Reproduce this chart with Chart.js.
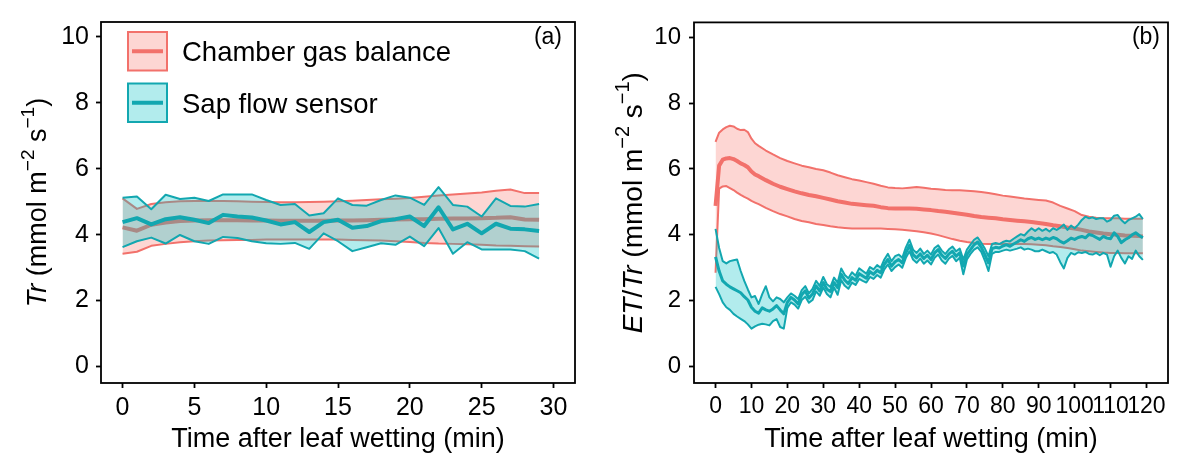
<!DOCTYPE html>
<html>
<head>
<meta charset="utf-8">
<script src="https://cdn.jsdelivr.net/npm/chart.js@4.4.1/dist/chart.umd.min.js"></script>
<style>
  html, body { margin: 0; padding: 0; background: #fff; }
  #wrap { position: relative; width: 1194px; height: 458px; }
  #wrap canvas { position: absolute; top: 0; }
</style>
</head>
<body>
<div id="wrap">
  <canvas id="panelA" width="597" height="458" style="left:0"></canvas>
  <canvas id="panelB" width="597" height="458" style="left:597px"></canvas>
</div>
<script>
"use strict";

// ---- panel (a): Tr, first 30 min ----
var minutesA = [0, 1, 2, 3, 4, 5, 6, 7, 8, 9, 10, 11, 12, 13, 14, 15, 16, 17, 18, 19, 20, 21, 22, 23, 24, 25, 26, 27, 28, 29];
var chamberUpperA = [5.10, 4.78, 4.93, 4.98, 5.01, 5.02, 5.02, 5.02, 5.01, 5.00, 4.99, 4.98, 4.98, 4.99, 5.00, 5.01, 5.03, 5.05, 5.07, 5.09, 5.11, 5.15, 5.19, 5.22, 5.25, 5.28, 5.33, 5.37, 5.26, 5.26];
var chamberMeanA = [4.22, 4.12, 4.30, 4.37, 4.41, 4.43, 4.44, 4.44, 4.44, 4.43, 4.43, 4.42, 4.42, 4.42, 4.42, 4.43, 4.43, 4.44, 4.45, 4.46, 4.47, 4.47, 4.48, 4.49, 4.49, 4.50, 4.51, 4.53, 4.46, 4.45];
var chamberLowerA = [3.42, 3.48, 3.66, 3.72, 3.77, 3.80, 3.82, 3.83, 3.84, 3.84, 3.85, 3.85, 3.85, 3.85, 3.85, 3.85, 3.84, 3.83, 3.82, 3.80, 3.78, 3.75, 3.73, 3.72, 3.71, 3.69, 3.67, 3.66, 3.65, 3.64];
var sapUpperA = [5.12, 5.16, 4.77, 5.21, 5.08, 5.12, 5.02, 5.22, 5.22, 5.22, 5.05, 4.90, 4.93, 4.58, 4.65, 5.10, 4.90, 4.88, 5.05, 5.19, 5.12, 4.90, 5.44, 4.90, 4.85, 4.55, 5.10, 4.87, 4.85, 4.93];
var sapMeanA = [4.38, 4.50, 4.31, 4.47, 4.53, 4.45, 4.35, 4.60, 4.55, 4.52, 4.43, 4.31, 4.38, 4.08, 4.38, 4.45, 4.21, 4.26, 4.41, 4.47, 4.55, 4.26, 4.83, 4.16, 4.33, 4.04, 4.33, 4.18, 4.16, 4.11];
var sapLowerA = [3.62, 3.80, 3.91, 3.73, 3.99, 3.80, 3.72, 3.93, 3.90, 3.80, 3.74, 3.72, 3.75, 3.57, 4.04, 3.80, 3.50, 3.62, 3.74, 3.69, 3.94, 3.65, 4.20, 3.42, 3.77, 3.55, 3.55, 3.55, 3.50, 3.27];
var xTicksA = [0, 5, 10, 15, 20, 25, 30];

// ---- panel (b): ET/Tr, 120 min ----
var chamberMinutesB = [0, 1, 2, 3, 4, 5, 6, 7, 8, 9, 10, 11, 12,
    14, 16, 18, 20, 22, 24, 26, 28, 30, 32, 34, 36, 38, 40, 42, 44, 46, 48, 50, 52, 54, 56, 58,
    60, 62, 64, 66, 68, 70, 72, 74, 76, 78, 80, 82, 84, 86, 88, 90, 92, 94, 96, 98, 100, 102, 104, 106, 108, 110, 112, 114, 116, 118,
    119];
var chamberUpperB = [6.82, 7.10, 7.20, 7.27, 7.31, 7.29, 7.22, 7.18, 7.19, 7.12, 6.92, 6.78, 6.70,
    6.56, 6.44, 6.33, 6.24, 6.17, 6.10, 6.05, 6.00, 5.96, 5.89, 5.81, 5.75, 5.69, 5.65, 5.60, 5.55, 5.49, 5.44, 5.42, 5.41, 5.43, 5.45, 5.43,
    5.40, 5.38, 5.36, 5.35, 5.35, 5.34, 5.32, 5.30, 5.27, 5.23, 5.19, 5.16, 5.13, 5.10, 5.08, 5.06, 5.04, 4.98, 4.88, 4.80, 4.72, 4.60, 4.55, 4.52, 4.50, 4.50, 4.50, 4.49, 4.49, 4.49,
    4.49];
var chamberMeanB = [4.88, 6.10, 6.28, 6.32, 6.33, 6.30, 6.24, 6.17, 6.12, 6.05, 5.92, 5.83, 5.78,
    5.66, 5.55, 5.46, 5.39, 5.32, 5.26, 5.21, 5.17, 5.12, 5.07, 5.02, 4.98, 4.94, 4.92, 4.90, 4.88, 4.84, 4.81, 4.80, 4.80, 4.80, 4.79, 4.77,
    4.75, 4.72, 4.70, 4.67, 4.64, 4.61, 4.57, 4.54, 4.52, 4.50, 4.47, 4.45, 4.43, 4.41, 4.39, 4.36, 4.33, 4.29, 4.26, 4.22, 4.19, 4.15, 4.10, 4.07, 4.04, 4.02, 4.00, 3.98, 3.97, 3.96,
    3.95];
var chamberLowerB = [2.85, 5.40, 5.47, 5.48, 5.42, 5.36, 5.28, 5.21, 5.15, 5.10, 5.03, 4.98, 4.93,
    4.82, 4.72, 4.63, 4.56, 4.48, 4.42, 4.38, 4.33, 4.30, 4.26, 4.23, 4.21, 4.19, 4.19, 4.19, 4.19, 4.19, 4.18, 4.17, 4.15, 4.13, 4.11, 4.08,
    4.04, 3.99, 3.93, 3.87, 3.82, 3.78, 3.75, 3.73, 3.72, 3.72, 3.72, 3.72, 3.72, 3.72, 3.71, 3.70, 3.68, 3.65, 3.63, 3.60, 3.56, 3.52, 3.50, 3.48, 3.46, 3.45, 3.45, 3.44, 3.44, 3.44,
    3.44];

var sapMinutesB = [0, 1, 2, 3, 4, 5, 6, 7, 8, 9,
    10, 11, 12, 13, 14, 15, 16, 17, 18, 19,
    20, 21, 22, 23, 24, 25, 26, 27, 28, 29,
    30, 31, 32, 33, 34, 35, 36, 37, 38, 39,
    40, 41, 42, 43, 44, 45, 46, 47, 48, 49,
    50, 51, 52, 53, 54, 55, 56, 57, 58, 59,
    60, 61, 62, 63, 64, 65, 66, 67, 68, 69,
    70, 71, 72, 73, 74, 75, 76, 77, 78, 79,
    80, 81, 82, 83, 84, 85, 86, 87, 88, 89,
    90, 91, 92, 93, 94, 95, 96, 97, 98, 99,
    100, 101, 102, 103, 104, 105, 106, 107, 108, 109,
    110, 111, 112, 113, 114, 115, 116, 117, 118, 119];
var sapUpperB = [4.18, 3.60, 3.20, 3.13, 3.20, 3.23, 3.25, 2.90, 2.60, 2.34,
    2.10, 2.14, 1.90, 2.20, 2.44, 2.10, 1.98, 2.10, 2.05, 1.95,
    2.10, 2.22, 2.15, 2.05, 2.32, 2.44, 2.22, 2.36, 2.60, 2.45,
    2.72, 2.50, 2.42, 2.70, 2.55, 2.98, 2.78, 2.68, 2.86, 2.76,
    2.98, 2.90, 2.82, 3.02, 2.95, 3.08, 3.00, 3.25, 3.42, 3.20,
    3.35, 3.40, 3.30, 3.62, 3.85, 3.55, 3.45, 3.58, 3.42, 3.52,
    3.40, 3.60, 3.68, 3.52, 3.42, 3.56, 3.64, 3.50, 3.58, 3.25,
    3.55, 3.70, 3.85, 3.92, 3.76, 3.58, 3.35, 3.72, 3.75, 3.72,
    3.78, 3.82, 3.80, 3.88, 3.95, 4.02, 3.98, 4.10, 4.20, 4.12,
    4.20, 4.12, 4.18, 4.10, 4.20, 4.15, 4.22, 4.31, 4.15, 4.28,
    4.20, 4.31, 4.45, 4.55, 4.50, 4.53, 4.48, 4.50, 4.50, 4.40,
    4.45, 4.58, 4.60, 4.45, 4.35, 4.45, 4.50, 4.55, 4.63, 4.48];
var sapMeanB = [3.33, 2.90, 2.60, 2.50, 2.42, 2.36, 2.30, 2.24, 2.12, 2.02,
    1.80, 1.68, 1.62, 1.78, 1.72, 1.68, 1.75, 1.85, 1.72, 1.60,
    1.95, 2.10, 2.02, 1.90, 2.18, 2.30, 2.08, 2.20, 2.45, 2.30,
    2.55, 2.35, 2.28, 2.55, 2.40, 2.80, 2.62, 2.52, 2.70, 2.62,
    2.82, 2.75, 2.68, 2.88, 2.80, 2.92, 2.85, 3.10, 3.25, 3.05,
    3.18, 3.25, 3.15, 3.45, 3.68, 3.40, 3.30, 3.42, 3.28, 3.38,
    3.25, 3.45, 3.55, 3.38, 3.28, 3.42, 3.50, 3.35, 3.45, 3.05,
    3.40, 3.55, 3.70, 3.78, 3.62, 3.40, 3.15, 3.58, 3.62, 3.60,
    3.66, 3.70, 3.65, 3.72, 3.78, 3.85, 3.80, 3.88, 3.92, 3.86,
    3.90, 3.85, 3.90, 3.86, 3.92, 3.88, 3.80, 3.75, 3.82, 3.90,
    3.86, 3.92, 3.95, 3.91, 4.01, 3.98, 3.92, 3.86, 3.95, 3.90,
    3.88, 4.06, 3.95, 3.76, 3.85, 3.91, 4.00, 4.06, 3.98, 3.91];
var sapLowerB = [2.42, 2.20, 1.95, 1.80, 1.72, 1.60, 1.52, 1.45, 1.38, 1.28,
    1.15, 1.22, 1.27, 1.30, 1.28, 1.25, 1.38, 1.44, 1.20, 1.15,
    1.78, 1.95, 1.88, 1.76, 2.02, 2.12, 1.94, 2.02, 2.28, 2.15,
    2.40, 2.20, 2.10, 2.40, 2.18, 2.62, 2.45, 2.36, 2.55, 2.48,
    2.66, 2.60, 2.55, 2.72, 2.66, 2.78, 2.70, 2.95, 3.10, 2.90,
    3.02, 3.10, 3.00, 3.30, 3.50, 3.25, 3.15, 3.28, 3.12, 3.22,
    3.10, 3.30, 3.40, 3.22, 3.12, 3.28, 3.36, 3.20, 3.30, 2.80,
    3.25, 3.42, 3.55, 3.62, 3.48, 3.22, 2.90, 3.42, 3.48, 3.48,
    3.52, 3.55, 3.52, 3.55, 3.58, 3.62, 3.55, 3.58, 3.55, 3.50,
    3.50, 3.55, 3.50, 3.45, 3.48, 3.40, 3.17, 2.98, 3.30, 3.45,
    3.40, 3.47, 3.45, 3.48, 3.42, 3.40, 3.45, 3.38, 3.45, 3.40,
    3.03, 3.35, 3.52, 3.30, 3.13, 3.35, 3.27, 3.52, 3.35, 3.24];
var xTicksB = [0, 10, 20, 30, 40, 50, 60, 70, 80, 90, 100, 110, 120];

var yTicks = [0, 2, 4, 6, 8, 10];
var seriesNames = ["Chamber gas balance", "Sap flow sensor"];

// ---- styling ----
var FAMILY = "'Liberation Sans', Arial, sans-serif";
var RED_LINE = "#F2716B", RED_FILL = "rgba(248, 118, 109, 0.30)";
var TEAL_LINE = "#12A7B0", TEAL_FILL = "rgba(0, 191, 196, 0.30)";

Chart.defaults.font.family = FAMILY;
Chart.defaults.color = "#000";

function toPoints(times, vals) {
    return vals.map(function(v, i) {
        return { x: times[i], y: v };
    });
}

// upper (filled down to lower), lower, mean; higher order = drawn first
function band(name, times, upper, lower, mean, line, fill, order, meanWidth) {
    return [{
        label: name,
        data: toPoints(times, upper),
        borderColor: line,
        borderWidth: 2,
        backgroundColor: fill,
        fill: "+1",
        order: order + 2
    }, {
        label: name + " lower",
        data: toPoints(times, lower),
        borderColor: line,
        borderWidth: 2,
        fill: false,
        order: order + 1
    }, {
        label: name + " mean",
        data: toPoints(times, mean),
        borderColor: line,
        borderWidth: meanWidth,
        fill: false,
        order: order
    }];
}

function drawVerticalTitle(ctx, parts, baseX, centerY, size) {
    var fontOf = function(p) {
        return (p.it ? "italic " : "") + (p.sup ? Math.round(size * 0.7) : size) + "px " + FAMILY;
    };
    var widths = [], total = 0;
    parts.forEach(function(p) {
        ctx.font = fontOf(p);
        var w = ctx.measureText(p.t).width;
        widths.push(w);
        total += w;
    });
    ctx.save();
    ctx.translate(baseX, centerY);
    ctx.rotate(-Math.PI / 2);
    ctx.textAlign = "left";
    ctx.textBaseline = "alphabetic";
    ctx.fillStyle = "#000";
    var x = -total / 2;
    parts.forEach(function(p, i) {
        ctx.font = fontOf(p);
        ctx.fillText(p.t, x, p.sup ? -size * 0.45 : 0);
        x += widths[i];
    });
    ctx.restore();
}

var panelDecor = {
    id: "panelDecor",
    afterDraw: function(chart, args, opts) {
        var ctx = chart.ctx, a = chart.chartArea;
        ctx.save();
        ctx.strokeStyle = "#000";
        ctx.lineWidth = 1.8;
        ctx.strokeRect(a.left, a.top, a.right - a.left, a.bottom - a.top);

        ctx.fillStyle = "#000";
        ctx.font = "23px " + FAMILY;
        ctx.textAlign = "right";
        ctx.textBaseline = "alphabetic";
        ctx.fillText(opts.tag, a.right - opts.tagInset, 44);

        drawVerticalTitle(ctx, opts.yTitle, opts.yTitleX, (a.top + a.bottom) / 2, opts.yTitleSize);

        (opts.legend || []).forEach(function(item, i) {
            var kx = 128, ky = 32 + i * 51.5, kw = 39, kh = 38.5;
            ctx.fillStyle = "#fff";
            ctx.fillRect(kx, ky, kw, kh);
            ctx.fillStyle = item.fill;
            ctx.fillRect(kx, ky, kw, kh);
            ctx.strokeStyle = item.line;
            ctx.lineWidth = 2;
            ctx.strokeRect(kx, ky, kw, kh);
            ctx.lineWidth = 4;
            ctx.beginPath();
            ctx.moveTo(kx + 4, ky + kh / 2);
            ctx.lineTo(kx + kw - 4, ky + kh / 2);
            ctx.stroke();
            ctx.fillStyle = "#000";
            ctx.font = "27.5px " + FAMILY;
            ctx.textAlign = "left";
            ctx.fillText(item.label, 182, ky + kh / 2 + 10);
        });
        ctx.restore();
    }
};

function makePanel(canvasId, setup) {
    var tickList = function(list) {
        return function(scale) {
            scale.ticks = list.map(function(v) { return { value: v }; });
        };
    };
    return new Chart(document.getElementById(canvasId).getContext("2d"), {
        type: "line",
        data: { datasets: setup.datasets },
        options: {
            responsive: false,
            animation: false,
            events: [],
            layout: { padding: { left: 0, right: setup.padRight, top: 13, bottom: 0 } },
            elements: {
                point: { radius: 0 },
                line: { tension: 0, borderJoinStyle: "round" }
            },
            plugins: {
                legend: { display: false },
                tooltip: { enabled: false },
                panelDecor: setup.decor
            },
            scales: {
                x: {
                    type: "linear",
                    min: setup.xMin,
                    max: setup.xMax,
                    afterBuildTicks: tickList(setup.xTicks),
                    afterFit: function(s) { s.height = 75; },
                    border: { display: false },
                    grid: { drawOnChartArea: false, tickColor: "#000", tickWidth: 1.8, tickLength: 5 },
                    ticks: {
                        autoSkip: false,
                        maxRotation: 0,
                        padding: 5,
                        color: "#000",
                        font: { size: setup.xTickSize },
                        callback: function(v) { return String(v); }
                    },
                    title: {
                        display: true,
                        text: "Time after leaf wetting (min)",
                        color: "#000",
                        font: { size: 27 },
                        padding: { top: 0, bottom: 2 }
                    }
                },
                y: {
                    type: "linear",
                    min: -0.5,
                    max: 10.45,
                    afterBuildTicks: tickList(yTicks),
                    afterFit: function(s) { s.width = setup.yWidth; },
                    border: { display: false },
                    grid: { drawOnChartArea: false, tickColor: "#000", tickWidth: 1.8, tickLength: 5 },
                    ticks: {
                        padding: setup.yPad,
                        color: "#000",
                        font: { size: setup.yTickSize },
                        callback: function(v) { return String(v); }
                    }
                }
            }
        },
        plugins: [panelDecor]
    });
}

var unitParts = [
    { t: " (mmol m" }, { t: "\u22122", sup: true }, { t: " s" }, { t: "\u22121", sup: true }, { t: ")" }
];

makePanel("panelA", {
    datasets: band(seriesNames[0], minutesA, chamberUpperA, chamberLowerA, chamberMeanA, RED_LINE, RED_FILL, 4, 4)
        .concat(band(seriesNames[1], minutesA, sapUpperA, sapLowerA, sapMeanA, TEAL_LINE, TEAL_FILL, 1, 4)),
    xMin: -1.5, xMax: 31.5, xTicks: xTicksA,
    padRight: 22, yWidth: 101, yPad: 7,
    xTickSize: 25, yTickSize: 25,
    decor: {
        tag: "(a)", tagInset: 13, yTitleX: 46, yTitleSize: 27,
        yTitle: [{ t: "Tr", it: true }].concat(unitParts),
        legend: [
            { label: seriesNames[0], line: RED_LINE, fill: RED_FILL },
            { label: seriesNames[1], line: TEAL_LINE, fill: TEAL_FILL }
        ]
    }
});

makePanel("panelB", {
    datasets: band(seriesNames[0], chamberMinutesB, chamberUpperB, chamberLowerB, chamberMeanB, RED_LINE, RED_FILL, 4, 4)
        .concat(band(seriesNames[1], sapMinutesB, sapUpperB, sapLowerB, sapMeanB, TEAL_LINE, TEAL_FILL, 1, 3)),
    xMin: -6, xMax: 126, xTicks: xTicksB,
    padRight: 26, yWidth: 97, yPad: 8,
    xTickSize: 23, yTickSize: 24,
    decor: {
        tag: "(b)", tagInset: 8, yTitleX: 45, yTitleSize: 28,
        yTitle: [{ t: "ET", it: true }, { t: "/" }, { t: "Tr", it: true }].concat(unitParts),
        legend: []
    }
});
</script>
</body>
</html>
